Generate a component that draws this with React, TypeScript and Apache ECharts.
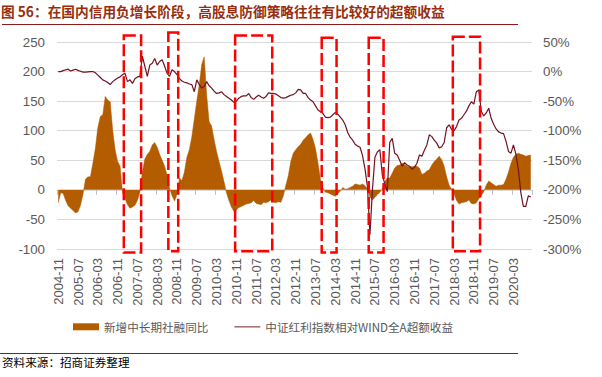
import React, { useEffect, useRef } from "react";
import * as echarts from "echarts";

// ---- categories: monthly, 2004-11 .. 2020-10 ----
const START_YEAR = 2004;
const START_MONTH = 11;
const MONTH_COUNT = 192;
const months: string[] = [];
for (let k = 0; k < MONTH_COUNT; k++) {
  const m = START_MONTH - 1 + k;
  const y = START_YEAR + Math.floor(m / 12);
  const mm = (m % 12) + 1;
  months.push(`${y}-${String(mm).padStart(2, "0")}`);
}

// ---- 新增中长期社融同比 (left axis) ----
const creditGrowth = [
  -22, -5, -6, -18, -27, -31, -35, -39, -37, -26, -8, 18, 22, 22, 45, 70, 105, 124, 127, 158,
  152, 149, 101, 68, 48, 40, -5, -15, -25, -31, -29, -26, -18, -4, 30, 52, 60, 65, 76, 80,
  72, 60, 50, 40, 25, 3, -10, -19, -8, 20, 16, 30, 55, 68, 90, 120, 150, 178, 212, 225,
  160, 115, 108, 85, 65, 48, 32, 14, -5, -18, -29, -36, -34, -30, -28, -26, -24, -23, -22, -18,
  -23, -24, -25, -21, -22, -20, -17, -21, -22, -20, -21, -10, 8, 24, 48, 62, 68, 73, 77, 84,
  88, 93, 96, 85, 70, 45, 18, 3, -4, -5, -7, -9, -11, -7, -2, 4, 1, 2, 4, 6,
  10, 9, 8, 10, 7, 1, -12, -17, -13, -8, -4, 2, 14, 20, 20, 28, 37, 41, 42, 45,
  43, 40, 39, 39, 40, 40, 37, 26, 28, 32, 34, 42, 48, 52, 57, 51, 40, 22, 8, 1,
  -7, -18, -24, -22, -21, -20, -17, -23, -24, -22, -15, -10, -3, 8, 15, 12, 9, 6, 8, 8,
  9, 18, 30, 45, 55, 60, 62, 60, 59, 57, 58, 59,
];

// ---- 中证红利指数相对WIND全A超额收益 (right axis, %) ----
const dividendExcess = [
  0, 0, 1.5, 3, 4, 1, 2.5, 4, 2, 0.5, -1, -1, -0.5, 0, 0, -2, -6, -10, -14, -16,
  -18.5, -22, -17, -14, -11, -9, -5, -3, -17, -14, -20, -12, -9, -8, 26, 9, -8, 11, 14, 22,
  11, 17, 20, 9, -3, -8, 3, 0, -5, -12, -16, -18, -19, -21, -22, -34, -14, -22, -28, -25,
  -17, -24, -28, -33, -37, -36, -34, -39, -42, -45, -48, -52, -50, -45, -42, -41, -41, -37, -44, -47,
  -43, -40, -43, -45, -42, -36, -37, -37, -38, -41, -44, -45, -44, -42, -40, -39, -36, -30, -31, -37,
  -37, -44, -48, -51, -58, -65, -68, -71, -77, -78, -77, -73, -69, -72, -77, -82, -90, -103, -111, -116,
  -123, -126, -128, -142, -165, -195, -276, -200, -145, -136, -132, -175, -190, -203, -120, -113, -138, -141, -150, -160,
  -154, -158, -160, -165, -162, -155, -141, -143, -133, -124, -107, -110, -116, -121, -129, -127, -120, -95, -90, -98,
  -100, -93, -82, -79, -73, -67, -58, -51, -55, -34, -31, -67, -75, -70, -62, -79, -89, -97, -102, -104,
  -105, -118, -135, -138, -124, -140, -166, -205, -228, -228, -210, -212,
];

// ---- axis ticks ----
const leftTicks = { min: -100, max: 250, interval: 50 };
const rightTicks = { min: -300, max: 50, interval: 50 };

// ---- highlighted periods (dashed boxes) ----
const highlightRanges = [
  { start: "2007-02", end: "2007-08", top: 261, bottom: -106 },
  { start: "2008-08", end: "2008-11", top: 266, bottom: -104 },
  { start: "2010-11", end: "2012-01", top: 261, bottom: -104 },
  { start: "2013-10", end: "2014-03", top: 257, bottom: -106 },
  { start: "2015-05", end: "2015-10", top: 257, bottom: -106 },
  { start: "2018-03", end: "2019-01", top: 259, bottom: -104 },
];

const TITLE = "图 56：在国内信用负增长阶段，高股息防御策略往往有比较好的超额收益";
const SOURCE = "资料来源：招商证券整理";
const NAME_AREA = "新增中长期社融同比";
const NAME_LINE = "中证红利指数相对WIND全A超额收益";

const LATIN = "'Liberation Sans', Arial, sans-serif";
const CJK = "'Noto Sans CJK SC', 'Liberation Sans', sans-serif";
const GRAY = "#595959";

export default function App() {
  const ref = useRef<HTMLDivElement>(null);

  useEffect(() => {
    if (!ref.current) return;
    const chart = echarts.init(ref.current, undefined, { renderer: "svg" });

    chart.setOption({
      animation: false,
      backgroundColor: "#ffffff",
      title: {
        text: TITLE,
        left: 1,
        top: 4,
        padding: 0,
        textStyle: {
          fontFamily: CJK,
          fontSize: 13.7,
          fontWeight: "bold",
          color: "#992E0F",
        },
      },
      legend: {
        left: 73,
        top: 321,
        padding: 0,
        itemWidth: 26,
        itemHeight: 7,
        itemGap: 26,
        textStyle: { fontFamily: CJK, fontSize: 11.6, color: GRAY },
        data: [
          { name: NAME_AREA, icon: "rect" },
          {
            name: NAME_LINE,
            icon: "path://M0,0 L26,0 L26,1.6 L0,1.6 Z",
            itemStyle: { color: "#A87474", borderWidth: 0 },
          },
        ],
      },
      grid: { left: 57, right: 70, top: 42, height: 207 },
      xAxis: [
        {
          type: "category",
          data: months,
          boundaryGap: true,
          position: "bottom",
          axisLine: { show: false, onZero: false },
          axisTick: { show: false },
          axisLabel: {
            interval: 7,
            rotate: 90,
            margin: 9,
            fontFamily: LATIN,
            fontSize: 13,
            color: GRAY,
          },
          splitLine: { show: false },
        },
        {
          type: "category",
          data: months,
          boundaryGap: true,
          position: "bottom",
          axisLine: {
            show: true,
            onZero: true,
            onZeroAxisIndex: 0,
            lineStyle: { color: "#d9d9d9", width: 1 },
          },
          axisTick: {
            show: true,
            interval: 7,
            length: 5,
            alignWithLabel: false,
            lineStyle: { color: "#bfbfbf", width: 1 },
          },
          axisLabel: { show: false },
          splitLine: { show: false },
        },
      ],
      yAxis: [
        {
          type: "value",
          min: leftTicks.min,
          max: leftTicks.max,
          interval: leftTicks.interval,
          axisLine: { show: false },
          axisTick: { show: false },
          axisLabel: { margin: 12, fontFamily: LATIN, fontSize: 13.3, color: GRAY },
          splitLine: { lineStyle: { color: "#d9d9d9", width: 1 } },
        },
        {
          type: "value",
          position: "right",
          min: rightTicks.min,
          max: rightTicks.max,
          interval: rightTicks.interval,
          axisLine: { show: false },
          axisTick: { show: false },
          axisLabel: {
            margin: 11,
            fontFamily: LATIN,
            fontSize: 13.3,
            color: GRAY,
            formatter: "{value}%",
          },
          splitLine: { show: false },
        },
      ],
      series: [
        {
          name: NAME_AREA,
          type: "line",
          xAxisIndex: 0,
          yAxisIndex: 0,
          data: creditGrowth,
          symbol: "none",
          color: "#B35C00",
          itemStyle: { color: "#B35C00" },
          lineStyle: { width: 0.5, color: "#B35C00" },
          areaStyle: { color: "#B35C00", opacity: 1 },
          z: 2,
        },
        {
          name: NAME_LINE,
          type: "line",
          xAxisIndex: 0,
          yAxisIndex: 1,
          data: dividendExcess,
          symbol: "none",
          color: "#6E1423",
          itemStyle: { color: "#6E1423" },
          lineStyle: { width: 1.2, color: "#6E1423" },
          z: 3,
        },
      ],
    });

    const px = (v: string) => chart.convertToPixel({ xAxisIndex: 0 }, v) as number;
    const py = (v: number) => chart.convertToPixel({ yAxisIndex: 0 }, v) as number;
    const bw = px(months[1]) - px(months[0]);

    const rects = highlightRanges.map((r, k) => {
      const x0 = px(r.start) - bw / 2;
      const x1 = px(r.end) + bw / 2;
      const y0 = py(r.top);
      const y1 = py(r.bottom);
      return {
        type: "rect",
        id: "hl" + k,
        z: 100,
        silent: true,
        shape: { x: x0, y: y0, width: x1 - x0, height: y1 - y0 },
        style: { fill: "none", stroke: "#FF0000", lineWidth: 2.5, lineDash: [12, 4] },
      };
    });

    chart.setOption({
      graphic: [
        {
          type: "line",
          id: "titleRule",
          shape: { x1: 2, y1: 24.5, x2: 518, y2: 24.5 },
          style: { stroke: "#8B1A1A", lineWidth: 1 },
        },
        {
          type: "line",
          id: "footRule",
          shape: { x1: 0, y1: 353.5, x2: 518, y2: 353.5 },
          style: { stroke: "#8B1A1A", lineWidth: 1 },
        },
        {
          type: "text",
          id: "source",
          left: 2,
          top: 356,
          style: {
            text: SOURCE,
            font: `11.6px ${CJK}`,
            fill: "#000000",
          },
        },
        ...rects,
      ],
    });

    return () => chart.dispose();
  }, []);

  return (
    <div
      ref={ref}
      style={{ position: "fixed", left: 0, top: 0, width: 602, height: 377, background: "#fff" }}
    />
  );
}
